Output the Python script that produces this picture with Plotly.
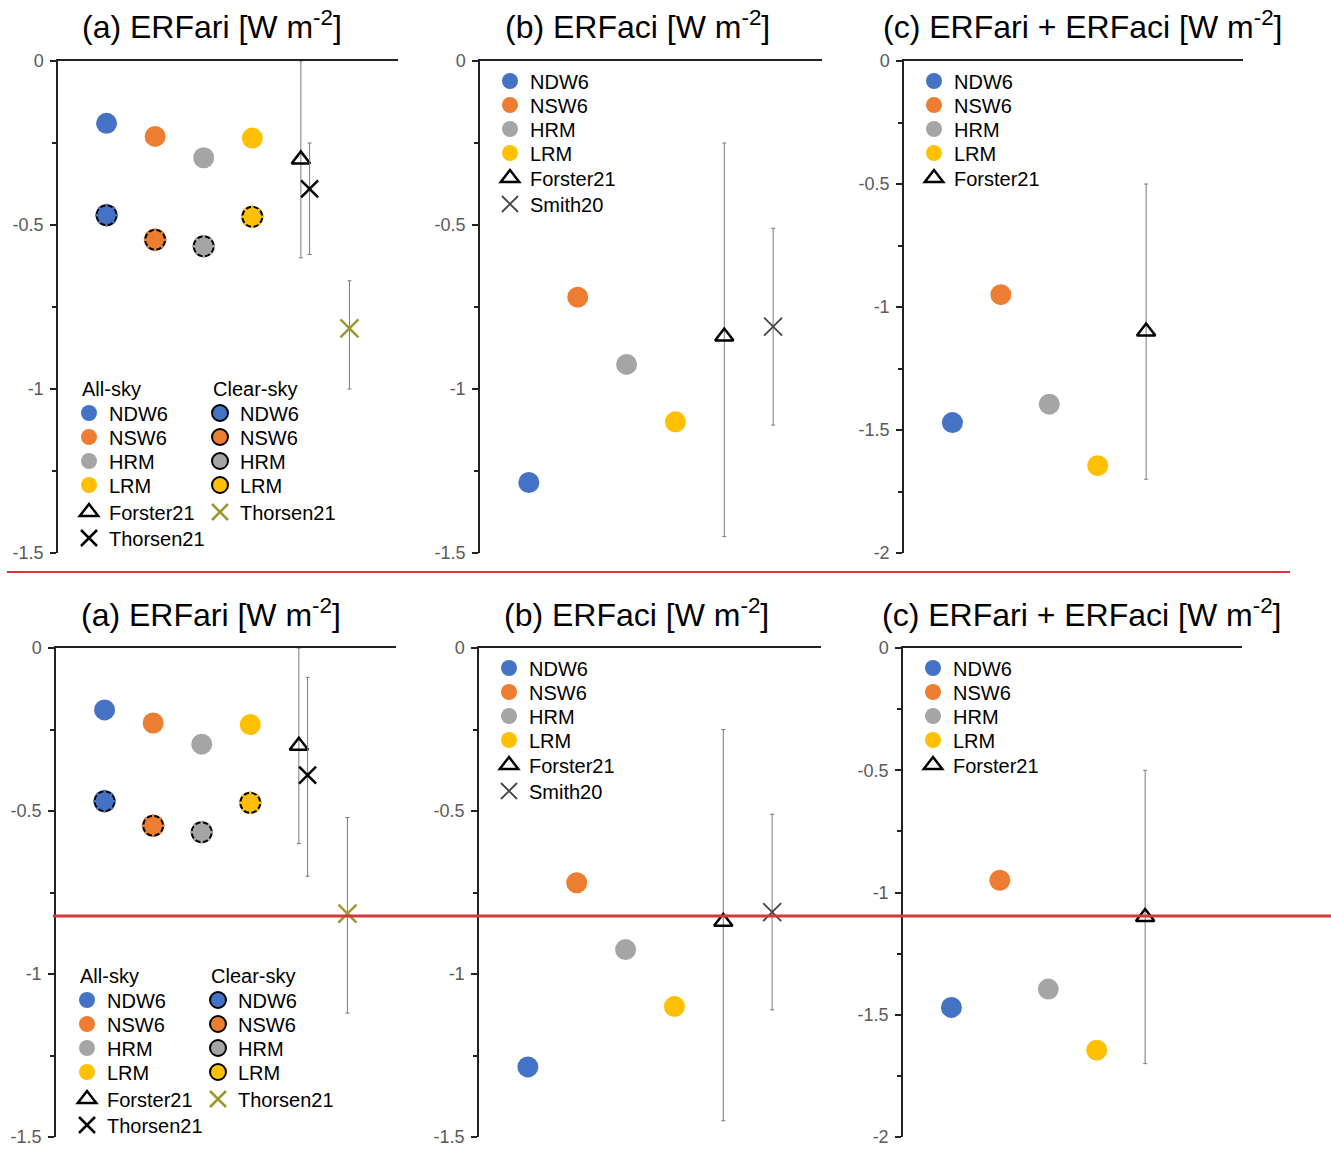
import plotly.graph_objects as go

W, H = 1331, 1149
FONT = "Liberation Sans, Arial, Helvetica, sans-serif"

# ---------------- data ----------------
models = ["NDW6", "NSW6", "HRM", "LRM"]
model_colors = ["#4472C4", "#ED7D31", "#A5A5A5", "#FFC000"]

erfari_allsky = [-0.19, -0.23, -0.295, -0.235]
erfari_clearsky = [-0.47, -0.545, -0.565, -0.475]
erfaci = [-1.285, -0.72, -0.925, -1.10]
erfari_plus_erfaci = [-1.47, -0.95, -1.395, -1.645]

# Forster21 central value / lower / upper for panels (a), (b), (c)
forster21_mean = [-0.30, -0.84, -1.10]
forster21_low = [-0.60, -1.45, -1.70]
forster21_high = [0.00, -0.25, -0.50]

# Thorsen21 (all-sky and clear-sky); ranges differ between upper and lower copy
thorsen21_allsky = -0.39
thorsen21_allsky_low = [-0.59, -0.70]
thorsen21_allsky_high = [-0.25, -0.09]
thorsen21_clearsky = -0.815
thorsen21_clearsky_low = [-1.00, -1.12]
thorsen21_clearsky_high = [-0.67, -0.52]

smith20_mean = -0.81
smith20_low = -1.11
smith20_high = -0.51

panel_titles = ["(a) ERFari [W m<sup>-2</sup>]",
                "(b) ERFaci [W m<sup>-2</sup>]",
                "(c) ERFari + ERFaci [W m<sup>-2</sup>]"]
yticks_ab = [0, -0.5, -1, -1.5]
yticklabels_ab = ["0", "-0.5", "-1", "-1.5"]
yticks_c = [0, -0.5, -1, -1.5, -2]
yticklabels_c = ["0", "-0.5", "-1", "-1.5", "-2"]

# ---------------- layout geometry (pixels) ----------------
COPIES = [
    dict(y0=61, y1=553, title_y=25, cols=[(58, 398), (480, 822), (904, 1243)],
         title_x=[212, 637, 1082]),
    dict(y0=648, y1=1137, title_y=613, cols=[(56, 396), (479, 821), (903, 1242)],
         title_x=[211, 636, 1081]),
]


def px(xp):
    return xp / W


def py(yp):
    return 1 - yp / H


fig = go.Figure()
layout = {}
annotations = []
legend_n = [0]


def new_legend(sym_x, item_y):
    legend_n[0] += 1
    n = legend_n[0]
    key = "legend" if n == 1 else f"legend{n}"
    layout[key] = dict(x=px(sym_x - 22), y=py(item_y), xanchor="left", yanchor="middle",
                       bgcolor="rgba(0,0,0,0)", borderwidth=0,
                       font=dict(family=FONT, size=20, color="black"),
                       itemsizing="trace")
    return key


ERR = dict(color="#7a7a7a", thickness=1, width=2)


def add_point(ax, x, y, name, marker, sym_x=None, item_y=None, low=None, high=None):
    kw = {}
    if low is not None:
        kw["error_y"] = dict(type="data", symmetric=False, array=[high - y],
                             arrayminus=[y - low], **ERR)
    if sym_x is not None:
        kw["legend"] = new_legend(sym_x, item_y)
        kw["showlegend"] = True
    else:
        kw["showlegend"] = False
    fig.add_trace(go.Scatter(x=[x], y=[y], mode="markers", name=name, marker=marker,
                             xaxis=ax[0], yaxis=ax[1], hoverinfo="skip",
                             cliponaxis=False, **kw))


def circle(color, outline=False):
    if outline:
        return dict(symbol="circle", size=20, color=color, line=dict(width=2, color="black"))
    return dict(symbol="circle", size=21, color=color, line=dict(width=0))


TRIANGLE = dict(symbol="triangle-up-open", size=16, color="black", line=dict(width=2.5))

for ci, g in enumerate(COPIES):
    y0, y1 = g["y0"], g["y1"]
    for pi in range(3):
        idx = ci * 3 + pi + 1
        sfx = "" if idx == 1 else str(idx)
        xa, ya = "x" + sfx, "y" + sfx
        x0, x1 = g["cols"][pi]
        if pi == 2:
            ymin, tv, tt = -2, yticks_c, yticklabels_c
        else:
            ymin, tv, tt = -1.5, yticks_ab, yticklabels_ab

        layout["xaxis" + sfx] = dict(domain=[px(x0), px(x1)], range=[0, 7], anchor=ya,
                                     side="top", showline=True, linecolor="#222",
                                     linewidth=1.5, showticklabels=False, ticks="",
                                     showgrid=False, zeroline=False, fixedrange=True)
        layout["yaxis" + sfx] = dict(domain=[py(y1), py(y0)], range=[ymin, 0], anchor=xa,
                                     showline=True, linecolor="#222", linewidth=1.5,
                                     ticks="outside", ticklen=6, tickwidth=1.5,
                                     tickcolor="#222", tickmode="array", tickvals=tv,
                                     ticktext=tt, ticklabeloverflow="allow",
                                     ticklabelstandoff=3,
                                     tickfont=dict(family=FONT, size=18, color="#5a5a5a"),
                                     showgrid=False, zeroline=False, fixedrange=True,
                                     minor=dict(ticks="outside", ticklen=4, tickwidth=1.5,
                                                tickcolor="#222", tickmode="linear",
                                                tick0=0, dtick=0.25, showgrid=False))
        layout[f"yaxis{idx + 6}"] = dict(overlaying=ya, anchor=xa, side="left",
                                         range=[ymin, 0], ticks="inside", ticklen=5,
                                         tickwidth=1.5, tickcolor="#222", tickmode="array",
                                         tickvals=tv, showticklabels=False, showline=False,
                                         showgrid=False, zeroline=False, fixedrange=True,
                                         minor=dict(ticks="inside", ticklen=4, tickwidth=1.5,
                                                    tickcolor="#222", tickmode="linear",
                                                    tick0=0, dtick=0.25, showgrid=False))
        annotations.append(dict(text=panel_titles[pi], x=px(g["title_x"][pi]),
                                y=py(g["title_y"]), xref="paper", yref="paper",
                                xanchor="center", yanchor="middle", showarrow=False,
                                font=dict(family=FONT, size=32, color="black")))
        ax = (xa, ya)

        if pi == 0:
            for i, m in enumerate(models):
                add_point(ax, i + 1, erfari_allsky[i], m, circle(model_colors[i]),
                          x0 + 33, y0 + 352 + 24 * i)
            for i, m in enumerate(models):
                add_point(ax, i + 1, erfari_clearsky[i], m, circle(model_colors[i], True),
                          x0 + 164, y0 + 352 + 24 * i)
            # break the black outlines into dashes
            fig.add_trace(go.Scatter(x=[i + 1 for i in range(len(models))], y=erfari_clearsky,
                                     mode="markers", showlegend=False, hoverinfo="skip",
                                     xaxis=xa, yaxis=ya, cliponaxis=False,
                                     marker=dict(symbol="asterisk-open", size=19,
                                                 color=model_colors, line=dict(width=2.5))))
            add_point(ax, 5, forster21_mean[0], "Forster21", TRIANGLE, x0 + 33, y0 + 451,
                      forster21_low[0], forster21_high[0])
            add_point(ax, 5.18, thorsen21_allsky, "Thorsen21",
                      dict(symbol="x-thin-open", size=17, color="black", line=dict(width=2.5)),
                      x0 + 33, y0 + 477, thorsen21_allsky_low[ci], thorsen21_allsky_high[ci])
            add_point(ax, 6, thorsen21_clearsky, "Thorsen21",
                      dict(symbol="x-thin-open", size=18, color="#9C982E", line=dict(width=2.5)),
                      x0 + 164, y0 + 451, thorsen21_clearsky_low[ci], thorsen21_clearsky_high[ci])
            annotations.append(dict(text="All-sky", x=px(x0 + 22), y=py(y0 + 328),
                                    xref="paper", yref="paper", xanchor="left",
                                    yanchor="middle", showarrow=False,
                                    font=dict(family=FONT, size=20, color="black")))
            annotations.append(dict(text="Clear-sky", x=px(x0 + 153), y=py(y0 + 328),
                                    xref="paper", yref="paper", xanchor="left",
                                    yanchor="middle", showarrow=False,
                                    font=dict(family=FONT, size=20, color="black")))
        elif pi == 1:
            for i, m in enumerate(models):
                add_point(ax, i + 1, erfaci[i], m, circle(model_colors[i]),
                          x0 + 32, y0 + 20 + 24 * i)
            add_point(ax, 5, forster21_mean[1], "Forster21", TRIANGLE, x0 + 32, y0 + 117,
                      forster21_low[1], forster21_high[1])
            add_point(ax, 6, smith20_mean, "Smith20",
                      dict(symbol="x-thin-open", size=18, color="#444444", line=dict(width=1.8)),
                      x0 + 32, y0 + 143, smith20_low, smith20_high)
        else:
            for i, m in enumerate(models):
                add_point(ax, i + 1, erfari_plus_erfaci[i], m, circle(model_colors[i]),
                          x0 + 32, y0 + 20 + 24 * i)
            add_point(ax, 5, forster21_mean[2], "Forster21", TRIANGLE, x0 + 32, y0 + 117,
                      forster21_low[2], forster21_high[2])

shapes = [
    dict(type="line", xref="paper", yref="paper", x0=px(7), x1=px(1290), y0=py(572), y1=py(572),
         line=dict(color="#D7343C", width=2)),
    dict(type="line", xref="paper", yref="paper", x0=px(53), x1=1, y0=py(916), y1=py(916),
         line=dict(color="#D7343C", width=3)),
]

fig.update_layout(width=W, height=H, margin=dict(l=0, r=0, t=0, b=0, autoexpand=False),
                  paper_bgcolor="white", plot_bgcolor="white", showlegend=True,
                  font=dict(family=FONT), annotations=annotations, shapes=shapes, **layout)

fig.write_html("out.html", config={"displayModeBar": False},
               post_script="document.body.style.margin='0';")
